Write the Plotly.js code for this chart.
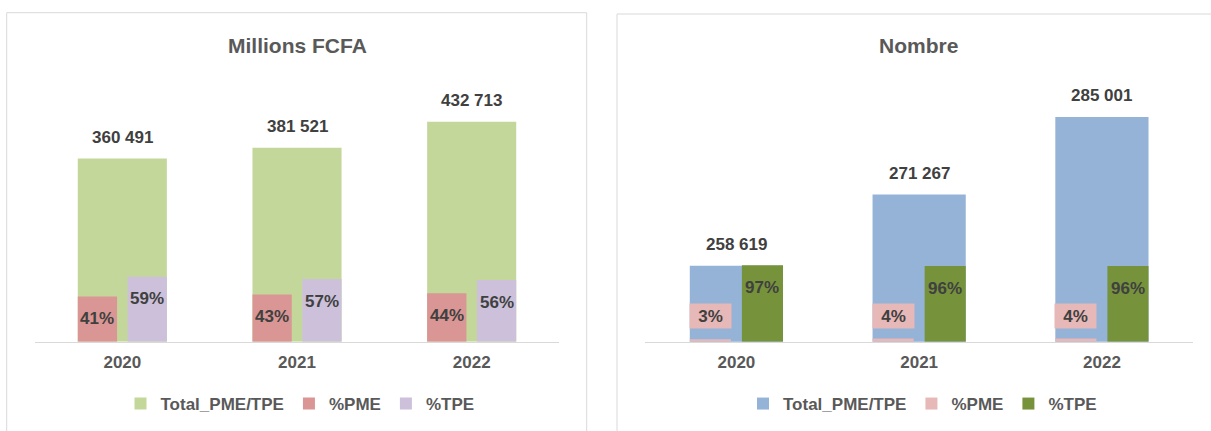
<!DOCTYPE html>
<html>
<head>
<meta charset="utf-8">
<script src="https://cdn.plot.ly/plotly-3.0.1.min.js"></script>
<style>html,body{margin:0;padding:0;background:#fff;}#chart{width:1211px;height:431px;}</style>
</head>
<body>
<div id="chart"></div>
<script>
// ---- data ----
const years = ['2020', '2021', '2022'];
// Left panel: Millions FCFA
const fcfaTotal = [360491, 381521, 432713];
const fcfaPME = [0.41, 0.43, 0.44];
const fcfaTPE = [0.59, 0.57, 0.56];
// Right panel: Nombre
const nbTotal = [258619, 271267, 285001];
const nbPME = [0.03, 0.04, 0.04];
const nbTPE = [0.97, 0.96, 0.96];
const seriesNames = ['Total_PME/TPE', '%PME', '%TPE'];
const panelTitles = ['Millions FCFA', 'Nombre'];

// ---- helpers ----
const W = 1211, H = 431;
const px = v => v / W;
const py = v => (H - v) / H;
const fmtNum = v => String(v).replace(/\B(?=(\d{3})+(?!\d))/g, ' ');
const fmtPct = v => Math.round(v * 100) + '%';
const FONT = 'Liberation Sans, Arial, sans-serif';
const LBL = '#404040', TXT = '#595959';

const TOT_OFF = -0.255, TOT_W = 0.51;
const PME_OFF = -0.255, SUB_W = 0.225;
const TPE_OFF = 0.03;

function bar(name, x, y, xa, ya, color, off, w, legend, showlegend) {
  return {type: 'bar', name, x, y, xaxis: xa, yaxis: ya, offset: off, width: w,
    marker: {color, line: {width: 0}}, legend, showlegend, hoverinfo: 'x+y+name', textposition: 'none'};
}

const traces = [
  bar(seriesNames[0], years, fcfaTotal, 'x', 'y', '#C4D79B', TOT_OFF, TOT_W, 'legend', true),
  bar(seriesNames[1], years, fcfaPME, 'x', 'y2', '#DA9694', PME_OFF, SUB_W, 'legend', true),
  bar(seriesNames[2], years, fcfaTPE, 'x', 'y2', '#CCC0DA', TPE_OFF, SUB_W, 'legend', true),
  bar(seriesNames[0], years, nbTotal, 'x2', 'y3', '#95B3D7', TOT_OFF, TOT_W, 'legend2', true),
  bar(seriesNames[1], years, nbPME, 'x2', 'y4', '#E6B8B7', PME_OFF, SUB_W, 'legend2', true),
  bar(seriesNames[2], years, nbTPE, 'x2', 'y4', '#76933C', TPE_OFF, SUB_W, 'legend2', true)
];

const annotations = [];
const lblFont = {family: FONT, size: 17, color: LBL, weight: 'bold'};
function addLabels(vals, xref, yref, off, w, fmt, shift, box) {
  vals.forEach((v, i) => {
    const a = {x: i + off + w / 2, y: v, xref, yref, text: fmt(v), showarrow: false,
      font: lblFont, yshift: shift, xanchor: 'center', yanchor: 'middle'};
    if (box) { a.bgcolor = box; a.width = 37; a.height = 20; a.borderpad = 2; }
    annotations.push(a);
  });
}
addLabels(fcfaTotal, 'x', 'y', TOT_OFF, TOT_W, fmtNum, 21);
addLabels(fcfaPME, 'x', 'y2', PME_OFF, SUB_W, fmtPct, -22);
addLabels(fcfaTPE, 'x', 'y2', TPE_OFF, SUB_W, fmtPct, -22);
addLabels(nbTotal, 'x2', 'y3', TOT_OFF, TOT_W, fmtNum, 21);
addLabels(nbPME, 'x2', 'y4', PME_OFF, SUB_W, fmtPct, 23, '#E6B8B7');
addLabels(nbTPE, 'x2', 'y4', TPE_OFF, SUB_W, fmtPct, -22);

annotations.push({x: px(297), y: py(45), xref: 'paper', yref: 'paper', text: panelTitles[0], showarrow: false,
  font: {family: FONT, size: 21, color: TXT, weight: 'bold'}, xanchor: 'center', yanchor: 'middle'});
annotations.push({x: px(919), y: py(46), xref: 'paper', yref: 'paper', text: panelTitles[1], showarrow: false,
  font: {family: FONT, size: 21, color: TXT, weight: 'bold'}, xanchor: 'center', yanchor: 'middle'});

const yDom = [py(341.7), py(80)];
const hiddenY = (range, extra) => Object.assign({range, domain: yDom, visible: false, fixedrange: true}, extra || {});
const xAx = (dom) => ({domain: dom, type: 'category', range: [-0.5, 2.5], showline: true, linecolor: '#D9D9D9', linewidth: 1,
  showgrid: false, zeroline: false, ticks: '', ticklabelstandoff: 5,
  tickfont: {family: FONT, size: 17, color: TXT, weight: 'bold'}, fixedrange: true});

const legendBase = (xc) => ({orientation: 'h', x: px(xc), xanchor: 'center', y: py(404), yanchor: 'middle',
  font: {family: FONT, size: 17, color: TXT, weight: 'bold'}, bgcolor: 'rgba(0,0,0,0)', itemclick: false, itemdoubleclick: false});

const layout = {
  width: W, height: H, margin: {l: 0, r: 0, t: 0, b: 0}, paper_bgcolor: '#fff', plot_bgcolor: 'rgba(0,0,0,0)',
  barmode: 'overlay', showlegend: true,
  xaxis: xAx([px(35), px(559)]),
  xaxis2: Object.assign(xAx([px(645), px(1193.3)]), {anchor: 'y3'}),
  yaxis: hiddenY([0, 515000], {anchor: 'x'}),
  yaxis2: hiddenY([0, 2.38], {overlaying: 'y', anchor: 'x'}),
  yaxis3: hiddenY([245137, 291563], {anchor: 'x2'}),
  yaxis4: hiddenY([0, 3.32], {overlaying: 'y3', anchor: 'x2'}),
  legend: legendBase(300),
  legend2: legendBase(922.5),
  annotations,
  shapes: [
    {type: 'rect', xref: 'paper', yref: 'paper', x0: px(6.7), x1: px(586.7), y0: py(440), y1: py(12.7), line: {color: '#D9D9D9', width: 1}},
    {type: 'rect', xref: 'paper', yref: 'paper', x0: px(617), x1: px(1225), y0: py(440), y1: py(14), line: {color: '#D9D9D9', width: 1}}
  ]
};
layout.xaxis.anchor = 'y';

Plotly.newPlot('chart', traces, layout, {staticPlot: true, displayModeBar: false});
</script>
</body>
</html>
